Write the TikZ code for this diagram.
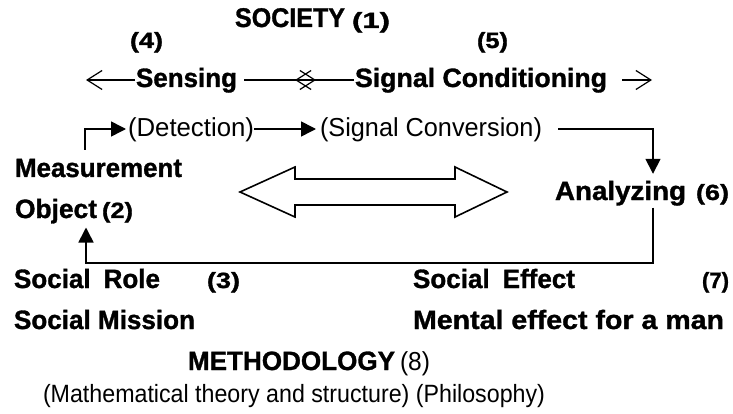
\documentclass[tikz,border=0pt]{standalone}
\usepackage{fontspec}
\setmainfont{Liberation Sans}[BoldFeatures={FakeBold=1.2}]
\usetikzlibrary{arrows.meta}
\newcommand{\fitw}[2]{\resizebox{#1pt}{\height}{#2}}
\begin{document}
\begin{tikzpicture}[x=1pt,y=-1pt,
  lbl/.style={anchor=base west, inner sep=0pt, outer sep=0pt},
  topb/.style={font=\fontsize{27}{31}\selectfont\bfseries},
  bigb/.style={font=\fontsize{26.5}{31}\selectfont\bfseries},
  numb/.style={font=\fontsize{22}{26}\selectfont\bfseries},
  regt/.style={font=\fontsize{26}{30}\selectfont},
  regm/.style={font=\fontsize{25}{29}\selectfont},
  barb/.style={line width=1.2pt, -{Straight Barb[length=15pt,width=19pt,line width=1.2pt]}},
  tri/.style={line width=1.6pt, -{Triangle[length=15pt,width=15pt]}}]
\useasboundingbox (0,0) rectangle (733,414);
% texts
\node[lbl,topb] (soc) at (235,27) {\fitw{110}{SOCIETY}};
\node[lbl,numb] (n1) at (352,28) {\fitw{38}{(1)}};
\node[lbl,numb] (n4) at (130,48) {\fitw{33}{(4)}};
\node[lbl,numb] (n5) at (477,48) {\fitw{31}{(5)}};
\node[lbl,bigb] (sens) at (136,87) {\fitw{101}{Sensing}};
\node[lbl,bigb] (sigc) at (355,87) {\fitw{252}{Signal Conditioning}};
\node[lbl,regt] (det) at (128,137) {\fitw{126}{(Detection)}};
\node[lbl,regt] (sconv) at (320,137) {\fitw{222}{(Signal Conversion)}};
\node[lbl,bigb] (meas) at (15,177) {\fitw{167}{Measurement}};
\node[lbl,bigb] (obj) at (15,218) {\fitw{82}{Object}};
\node[lbl,numb] (n2) at (102,218) {\fitw{31}{(2)}};
\node[lbl,bigb] (anal) at (555,200) {\fitw{131}{Analyzing}};
\node[lbl,numb] (n6) at (696,200) {\fitw{33}{(6)}};
\node[lbl,bigb] (srole) at (14,288) {\fitw{146}{Social\hspace{0.5em}Role}};
\node[lbl,numb] (n3) at (207,288) {\fitw{33}{(3)}};
\node[lbl,bigb] (seff) at (413,288) {\fitw{162}{Social\hspace{0.5em}Effect}};
\node[lbl,numb] (n7) at (702,288) {\fitw{27}{(7)}};
\node[lbl,bigb] (smis) at (14,329) {\fitw{181}{Social Mission}};
\node[lbl,bigb] (ment) at (413,329) {\fitw{311}{Mental effect for a man}};
\node[lbl,bigb] (meth) at (188,370) {\fitw{207}{METHODOLOGY}};
\node[lbl,regt] (n8) at (400,370) {\fitw{30}{(8)}};
\node[lbl,regm] (math) at (43,402) {\fitw{502}{(Mathematical theory and structure) (Philosophy)}};
% sensing row arrows
\coordinate (sl) at (86,80);
\coordinate (sr) at (316,80);
\coordinate (cl) at (295,80);
\coordinate (cr) at (652,80);
\draw[barb, shorten <=1pt] (sens.west |- sl) -- (sl);
\draw[barb, shorten <=7pt] (sens.east |- sr) -- (sr);
\draw[barb, shorten <=1pt] (sigc.west |- cl) -- (cl);
\draw[barb, shorten <=15pt] (sigc.east |- cr) -- (cr);
% detection row
\coordinate (m1) at (85,129);
\coordinate (a1) at (653,129);
\coordinate (b1) at (653,263);
\coordinate (b2) at (86,263);
\draw[tri, shorten >=2pt] ([yshift=9pt]meas.north -| m1) -- (m1) -- (det.west |- m1);
\draw[tri, shorten >=4pt] (det.east |- m1) -- (sconv.west |- m1);
\draw[tri] ([xshift=16pt]sconv.east |- a1) -- (a1) -- ([yshift=7pt]anal.north -| a1);
\draw[tri] ([yshift=-2pt]anal.south -| b1) -- (b1) -- (b2) -- ([yshift=-4pt]obj.south -| b2);
% double arrow
\draw[line width=1.6pt, line join=miter] (240,192) -- (295,167) -- (295,179) -- (455,179) -- (455,167) -- (507,192)
  -- (455,217) -- (455,205) -- (295,205) -- (295,217) -- cycle;
\end{tikzpicture}
\end{document}
